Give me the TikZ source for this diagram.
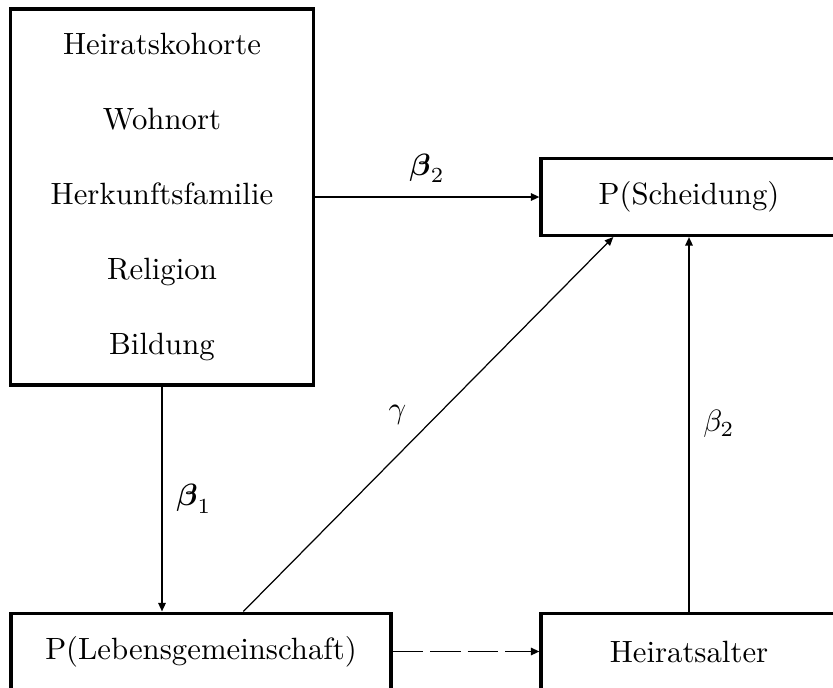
\documentclass[tikz,border=0pt]{standalone}
\usepackage{amsmath,amssymb}
\usepackage{tikz}
\usetikzlibrary{arrows.meta}
\usetikzlibrary{positioning}

\begin{document}
\begin{tikzpicture}[x=0.325pt,y=-0.325pt,
    box/.style={draw,line width=1pt,inner sep=0pt,align=center},
    arr/.style={-{Triangle[length=2.8pt,width=2.4pt]},line width=0.6pt}]
  \useasboundingbox (0,0) rectangle (833,687);
  \clip (0,0) rectangle (833,687);
  \node[box,minimum width=98.2pt,minimum height=122.2pt](merkmale) at (162,197)
    {Heiratskohorte\\[12.3pt]Wohnort\\[12.3pt]Herkunftsfamilie\\[12.3pt]Religion\\[12.3pt]Bildung};
  \node[box,minimum width=96.2pt,minimum height=25pt](scheidung) at (689,197) {P(Scheidung)};
  \node[box,minimum width=123.5pt,minimum height=25pt](lebgem) at (201,651.5) {P(Lebensgemeinschaft)};
  \node[box,minimum width=96.2pt,minimum height=25pt](alter) at (689,651.5) {Heiratsalter};
  \draw[arr] (merkmale.east)--(scheidung.west) node[midway,above=1pt]{$\boldsymbol{\beta}_2$};
  \draw[arr] (merkmale.south)--(merkmale.south |- lebgem.north) node[midway,right=1pt]{$\boldsymbol{\beta}_1$};
  \draw[arr,line width=0.4pt] ([xshift=76pt]lebgem.north west)--([xshift=24pt]scheidung.south west) node[pos=0.47,above left=0pt]{$\gamma$};
  \draw[arr] (alter.north)--(alter.north |- scheidung.south) node[midway,right=1pt]{$\beta_2$};
  \draw[arr,dash pattern=on 10pt off 2.2pt] (lebgem.east)--(alter.west);
\end{tikzpicture}
\end{document}
